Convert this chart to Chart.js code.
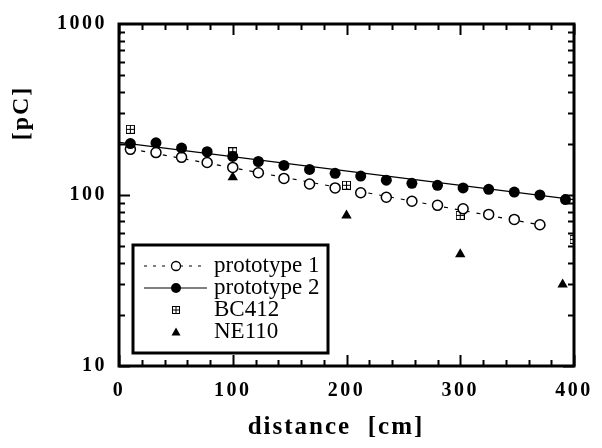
<!DOCTYPE html>
<html>
<head>
<meta charset="utf-8">
<script src="https://cdn.jsdelivr.net/npm/chart.js@4.4.1/dist/chart.umd.min.js"></script>
<style>
  html, body { margin: 0; padding: 0; background: #fff; }
  canvas { display: block; }
</style>
</head>
<body>
<canvas id="chart" width="602" height="448"></canvas>
<script>
// positions along the bar [cm]
const distance = [10, 32.5, 55, 77.5, 100, 122.5, 145, 167.5, 190, 212.5, 235, 257.5, 280, 302.5, 325, 347.5, 370, 392.5];
// charge [pC]
const prototype1 = [185, 177, 166, 155, 145, 135, 125, 116, 110, 103, 97, 92, 87, 83, 77, 72, 67];
const prototype2 = [200, 202, 188, 179, 168, 157, 149, 141, 134, 129, 122, 117, 114, 110, 108, 104, 100, 94];
const bcDistance = [10, 100, 200, 300, 400];
const bc412 = [242, 179, 114, 76, 55];
const neDistance = [100, 200, 300, 390];
const ne110 = [127, 76, 45, 30];
// end points of the exponential fits drawn through the prototypes
const fit1Distance = [10, 375];
const fit1 = [186, 66];
const fit2Distance = [0, 400];
const fit2 = [203, 94];
const xTicks = [0, 100, 200, 300, 400];
const yTicks = [10, 100, 1000];

const serif = "'Liberation Serif', 'Times New Roman', serif";

// little square with a cross in it, used as the BC412 marker
function boxPlus(size) {
    const c = document.createElement("canvas");
    c.width = size;
    c.height = size;
    const g = c.getContext("2d");
    g.strokeStyle = "#000";
    g.lineWidth = 1;
    g.strokeRect(0.5, 0.5, size - 1, size - 1);
    g.beginPath();
    g.moveTo(size / 2, 0);
    g.lineTo(size / 2, size);
    g.moveTo(0, size / 2);
    g.lineTo(size, size / 2);
    g.stroke();
    return c;
}
const bcMark = boxPlus(9);
const bcMarkSmall = boxPlus(8);

const pts = (xs, ys) => ys.map((y, i) => ({ x: xs[i], y: y }));

// box with inward ticks on all four sides, plus the two axis titles
const framePlugin = {
    id: "frame",
    beforeDraw(chart) {
        chart.ctx.letterSpacing = "2.5px";
    },
    beforeDatasetsDraw(chart) {
        const { ctx, chartArea: a, scales } = chart;
        ctx.save();
        ctx.letterSpacing = "0px";
        ctx.strokeStyle = "#000";
        ctx.lineWidth = 2;
        ctx.beginPath();
        for (let v = 0; v <= 400; v += 20) {
            const x = Math.round(scales.x.getPixelForValue(v)) + 0.5;
            const len = v % 100 === 0 ? 11 : 6;
            ctx.moveTo(x, a.bottom);
            ctx.lineTo(x, a.bottom - len);
            ctx.moveTo(x, a.top);
            ctx.lineTo(x, a.top + len);
        }
        for (let d = 10; d < 1000; d *= 10) {
            for (let m = 1; m < 10; m++) {
                const y = Math.round(scales.y.getPixelForValue(d * m)) + 0.5;
                const len = m === 1 ? 11 : 6;
                ctx.moveTo(a.left, y);
                ctx.lineTo(a.left + len, y);
                ctx.moveTo(a.right, y);
                ctx.lineTo(a.right - len, y);
            }
        }
        ctx.stroke();
        ctx.lineWidth = 3;
        ctx.strokeRect(a.left, a.top, a.right - a.left, a.bottom - a.top);
        ctx.restore();
    },
    afterDraw(chart) {
        const ctx = chart.ctx;
        ctx.save();
        ctx.fillStyle = "#000";
        ctx.textAlign = "center";
        ctx.textBaseline = "middle";
        // x axis title
        ctx.letterSpacing = "2px";
        ctx.font = "bold 25px " + serif;
        ctx.fillText("distance  [cm]", 336, 428);
        // y axis title
        ctx.font = "bold 24px " + serif;
        ctx.translate(22, 113);
        ctx.rotate(-Math.PI / 2);
        ctx.fillText("[pC]", 0, 0);
        ctx.restore();
    },
};

// legend sitting inside the plot, bottom left
const legendPlugin = {
    id: "boxLegend",
    afterDraw(chart) {
        const ctx = chart.ctx;
        const box = { x: 133, y: 245, w: 195, h: 108 };
        const rows = [266, 288, 310, 332];
        ctx.save();
        ctx.letterSpacing = "0px";
        ctx.fillStyle = "#fff";
        ctx.fillRect(box.x, box.y, box.w, box.h);
        ctx.strokeStyle = "#000";
        ctx.lineWidth = 3;
        ctx.strokeRect(box.x, box.y, box.w, box.h);

        const x0 = 144, x1 = 207, xm = 176;
        ctx.lineWidth = 1.2;
        // prototype 1
        ctx.setLineDash([3, 6]);
        ctx.beginPath();
        ctx.moveTo(x0, rows[0]);
        ctx.lineTo(x1, rows[0]);
        ctx.stroke();
        ctx.setLineDash([]);
        ctx.beginPath();
        ctx.arc(xm, rows[0], 4.5, 0, Math.PI * 2);
        ctx.fillStyle = "#fff";
        ctx.fill();
        ctx.lineWidth = 1.3;
        ctx.stroke();
        // prototype 2
        ctx.lineWidth = 1.2;
        ctx.beginPath();
        ctx.moveTo(x0, rows[1]);
        ctx.lineTo(x1, rows[1]);
        ctx.stroke();
        ctx.beginPath();
        ctx.arc(xm, rows[1], 5, 0, Math.PI * 2);
        ctx.fillStyle = "#000";
        ctx.fill();
        // BC412
        ctx.drawImage(bcMarkSmall, xm - 4, rows[2] - 4);
        // NE110
        ctx.beginPath();
        ctx.moveTo(xm, rows[3] - 4.5);
        ctx.lineTo(xm + 4.5, rows[3] + 3.5);
        ctx.lineTo(xm - 4.5, rows[3] + 3.5);
        ctx.closePath();
        ctx.fill();

        ctx.font = "23px " + serif;
        ctx.textBaseline = "middle";
        ctx.textAlign = "left";
        ["prototype 1", "prototype 2", "BC412", "NE110"].forEach((t, i) => {
            ctx.fillText(t, 214, rows[i]);
        });
        ctx.restore();
    },
};

new Chart(document.getElementById("chart"), {
    type: "scatter",
    data: {
        datasets: [
            {
                label: "prototype 2",
                data: pts(distance, prototype2),
                pointStyle: "circle",
                pointRadius: 5.5,
                backgroundColor: "#000",
                borderColor: "#000",
                borderWidth: 0,
            },
            {
                label: "prototype 1",
                data: pts(distance, prototype1),
                pointStyle: "circle",
                pointRadius: 5,
                backgroundColor: "#fff",
                borderColor: "#000",
                borderWidth: 1.5,
            },
            {
                label: "BC412",
                data: pts(bcDistance, bc412),
                pointStyle: bcMark,
                pointRadius: 5,
            },
            {
                label: "NE110",
                data: pts(neDistance, ne110),
                pointStyle: "triangle",
                pointRadius: 6,
                backgroundColor: "#000",
                borderColor: "#000",
                borderWidth: 0,
            },
            {
                label: "fit 2",
                type: "line",
                data: pts(fit2Distance, fit2),
                showLine: true,
                pointRadius: 0,
                borderColor: "#000",
                borderWidth: 1.2,
            },
            {
                label: "fit 1",
                type: "line",
                data: pts(fit1Distance, fit1),
                showLine: true,
                pointRadius: 0,
                borderColor: "#000",
                borderWidth: 1.2,
                borderDash: [4, 7],
            },
        ],
    },
    options: {
        responsive: false,
        animation: false,
        devicePixelRatio: 1,
        layout: { padding: { top: 20, right: 22, left: 0, bottom: 0 } },
        plugins: {
            legend: { display: false },
            tooltip: { enabled: false },
        },
        scales: {
            x: {
                type: "linear",
                min: 0,
                max: 400,
                afterBuildTicks: (s) => {
                    s.ticks = xTicks.map((v) => ({ value: v }));
                },
                afterFit: (s) => {
                    s.height = 82;
                },
                grid: { display: false, drawTicks: false },
                border: { display: false },
                ticks: {
                    color: "#000",
                    padding: 13,
                    maxRotation: 0,
                    autoSkip: false,
                    font: { family: serif, size: 20, weight: "bold" },
                },
            },
            y: {
                type: "logarithmic",
                min: 10,
                max: 1000,
                afterBuildTicks: (s) => {
                    s.ticks = yTicks.map((v) => ({ value: v }));
                },
                afterFit: (s) => {
                    s.width = 119;
                },
                grid: { display: false, drawTicks: false },
                border: { display: false },
                ticks: {
                    color: "#000",
                    padding: 12,
                    autoSkip: false,
                    callback: (v) => String(v),
                    font: { family: serif, size: 20, weight: "bold" },
                },
            },
        },
    },
    plugins: [framePlugin, legendPlugin],
});
</script>
</body>
</html>
